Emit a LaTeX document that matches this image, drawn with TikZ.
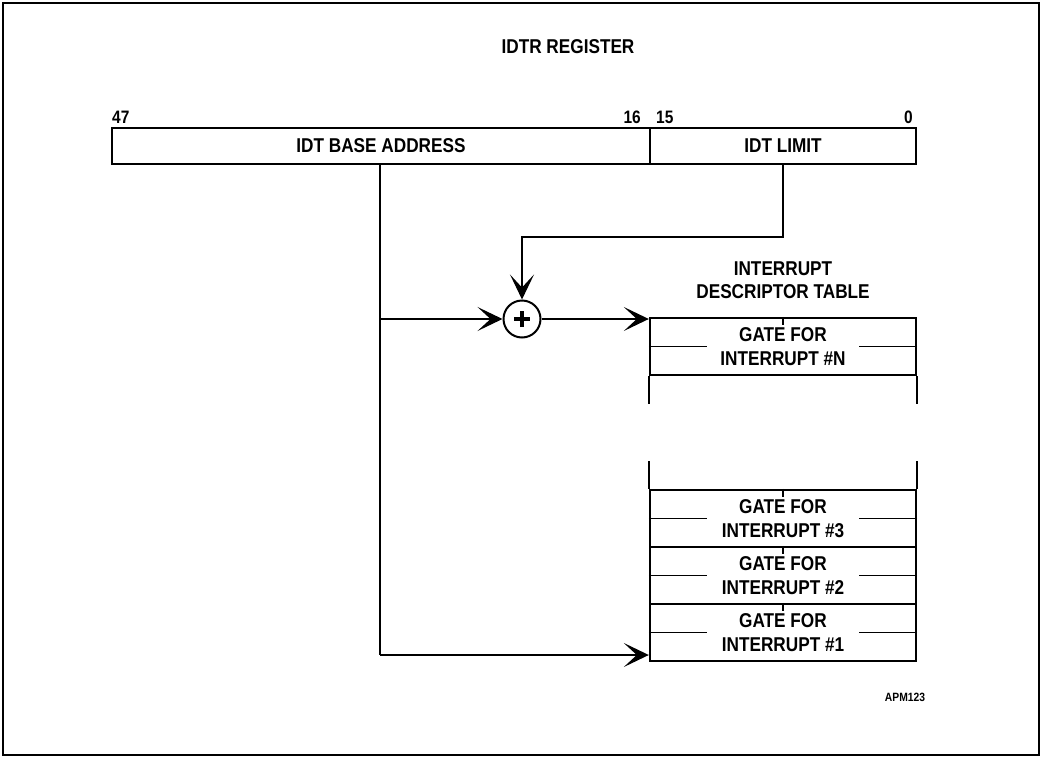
\documentclass[tikz,border=0pt]{standalone}
\usepackage{fontspec}
\setmainfont{Liberation Sans}[FakeStretch=0.86]
\usetikzlibrary{arrows.meta}
\begin{document}
\begin{tikzpicture}[x=1pt,y=-1pt,
  lbl/.style={font=\fontsize{20}{23.5}\selectfont\bfseries, align=center, inner sep=0pt},
  reg/.style={draw, line width=2.4pt, minimum height=36pt, inner sep=0pt, font=\fontsize{20}{23}\selectfont\bfseries},
  gaterow/.style={draw, line width=2.4pt, minimum width=266pt, minimum height=57pt, inner sep=0pt},
  conn/.style={line width=1.2pt},
  arr/.style={line width=1.2pt, -{Stealth[length=25pt,width=24pt,inset=13pt]}},
  thin/.style={line width=1.2pt},
  bits/.style={font=\fontsize{18}{20}\selectfont\bfseries, inner sep=0pt}]
\useasboundingbox (0,0) rectangle (1042,758);
\draw[line width=2.5pt] (3,3) rectangle (1039,755);

\node[lbl] (title) at (568,47) {IDTR REGISTER};

% register
\node[reg, minimum width=538pt] (base) at (381,146) {IDT BASE ADDRESS};
\node[reg, minimum width=266pt] (limit) at (783,146) {IDT LIMIT};
\node[bits, anchor=base west] (b47) at (112,123) {47};
\node[bits, anchor=base east] (b16) at (641,123) {16};
\node[bits, anchor=base west] (b15) at (656,123) {15};
\node[bits, anchor=base east] (b0) at (913,123) {0};

% adder
\node[draw, circle, line width=2pt, minimum size=37pt, inner sep=0pt] (plus) at (522,319) {};
\draw[line width=3.8pt] ([xshift=-8pt]plus.center) -- ([xshift=8pt]plus.center);
\draw[line width=3.8pt] ([yshift=-8pt]plus.center) -- ([yshift=8pt]plus.center);

% table title
\node[lbl] (tt) at (783,280) {INTERRUPT\\DESCRIPTOR TABLE};

% table rows
\node[gaterow] (rowN) at (783,346.5) {};
\node[gaterow] (row3) at (783,518.5) {};
\node[gaterow] (row2) at (783,575.5) {};
\node[gaterow] (row1) at (783,632.5) {};
\foreach \r/\t in {rowN/N,row3/3,row2/2,row1/1}{
  \draw[thin] (\r.north) -- ++(0,8);
  \draw[thin] (\r.west) -- ++(58,0);
  \draw[thin] (\r.east) -- ++(-58,0);
  \node[lbl, fill=white, inner xsep=1pt] at (\r.center) {GATE FOR\\INTERRUPT \#\t};
}
% continuing sides
\draw[line width=2.4pt] (rowN.south west) -- ++(0,28);
\draw[line width=2.4pt] (rowN.south east) -- ++(0,28);
\draw[line width=2.4pt] (row3.north west) -- ++(0,-28);
\draw[line width=2.4pt] (row3.north east) -- ++(0,-28);

% connectors
\coordinate (bj) at (380,319);
\coordinate (bb) at (380,655);
\coordinate (lk) at (522,237);
\draw[conn] (base.south -| bj) -- (bb);
\draw[arr] (bb) -- (bb -| row1.west);
\draw[arr] (bj) -- (plus.west);
\draw[arr] (plus.east) -- (plus.east -| rowN.west);
\draw[arr] (limit.south) |- (lk) -- (plus.north);

\node[font=\fontsize{12}{14}\selectfont\bfseries, inner sep=0pt] (apm) at (905,697) {APM123};
\end{tikzpicture}
\end{document}
